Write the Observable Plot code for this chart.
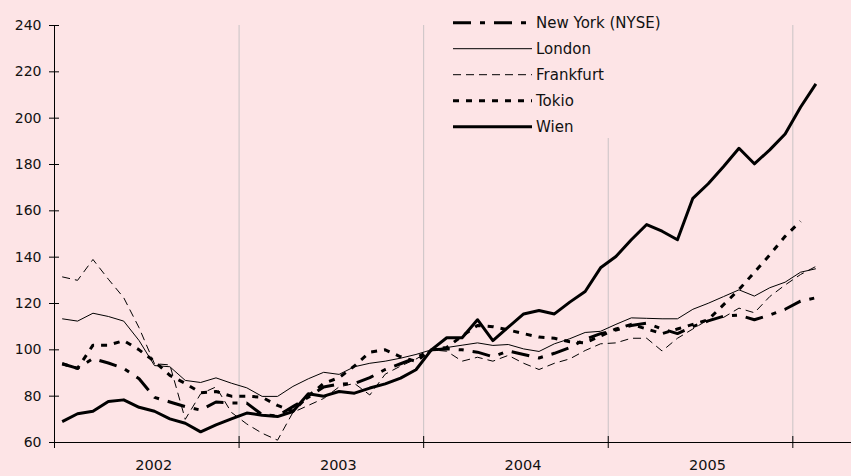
<!DOCTYPE html>
<html><head><meta charset="utf-8">
<script src="https://cdn.jsdelivr.net/npm/d3@7"></script>
<script src="https://cdn.jsdelivr.net/npm/@observablehq/plot@0.6"></script>
<style>
html,body{margin:0;padding:0;background:#fde4e6;}
#wrap{position:relative;width:851px;height:476px;overflow:hidden;}
#legend{position:absolute;left:440px;top:4px;}
</style></head><body><div id="wrap"></div>
<script>
// Monthly index values, Jan 2002 .. Feb 2006 (Jan 2004 = 100)
const years = [2002, 2003, 2004, 2005, 2006];
const yearLabels = ["2002", "2003", "2004", "2005"];
const yTicks = [60, 80, 100, 120, 140, 160, 180, 200, 220, 240];

const newYork = [
  94, 92, 96.2, 94.3, 92, 87.5, 79.5, 77.5, 75.5, 74,
  77.5, 77, 77, 72, 71.5, 75.5, 79.5, 84, 85.2, 85.5,
  88, 91.5, 94, 96.5, 100, 100.4, 100, 99, 97, 99.5,
  98, 96.5, 98.5, 101, 104.5, 107, 108.5, 110.5, 111.5, 109,
  107, 110, 112.5, 114.5, 115, 113, 115, 117.5, 121, 122.5];
const london = [
  113.4, 112.4, 115.8, 114.4, 112.4, 104, 93.2, 92.7, 86.8, 85.9,
  87.9, 85.6, 83.6, 79.9, 79.9, 84.2, 87.5, 90.3, 89.4, 92.7,
  94.2, 95.1, 96.4, 98, 100, 101, 102, 103, 101.9, 102.3,
  100.4, 99.3, 102.6, 104.8, 107.5, 108, 111, 113.8, 113.6, 113.4,
  113.4, 117.5, 120.1, 123, 125.9, 123.2, 126.8, 129.2, 133.5, 135];
const frankfurt = [
  131.5, 130, 139, 130.5, 122.5, 109.5, 94, 93.5, 70, 81,
  84, 73, 68, 64, 61, 73, 76, 79, 84, 85.5,
  80.5, 89.5, 93, 96, 100, 99.4, 95.1, 96.8, 95.1, 97.6,
  94.2, 91.5, 94.2, 96.1, 99.7, 102.6, 103, 105, 105, 99.5,
  105, 109, 113, 114, 118, 116, 123, 128, 132.5, 136];
const tokio = [
  94, 92, 102, 102, 104, 100, 95, 89, 85.5, 81.5,
  82, 80, 80, 79.5, 76, 73.5, 80, 85.5, 88, 93,
  99, 100, 97, 95, 100, 101, 106, 110.5, 110, 108.6,
  107, 105.5, 105, 103.5, 103, 106, 109, 111, 109, 107,
  109, 111, 113, 119.5, 126, 133.5, 141, 149, 155.5, null];
const wien = [
  69, 72.4, 73.5, 77.7, 78.4, 75.2, 73.5, 70.2, 68.3, 64.6,
  67.6, 70.2, 72.7, 71.8, 71.2, 73.4, 81, 80, 82, 81.3,
  83.5, 85.3, 87.8, 91.4, 100, 105.2, 105.2, 113, 104, 109.8,
  115.5, 117, 115.5, 120.6, 125.2, 135.4, 140.3, 147.5, 154.1, 151.2,
  147.5, 165.4, 171.7, 179.1, 187, 180.3, 186.3, 193.2, 204.7, 214.8];

const seriesNames = ["New York (NYSE)", "London", "Frankfurt", "Tokio", "Wien"];
const seriesValues = [newYork, london, frankfurt, tokio, wien];
const seriesStyle = [
  {strokeWidth: 3, strokeDasharray: "18,9,5,9"},
  {strokeWidth: 1, strokeDasharray: null},
  {strokeWidth: 1, strokeDasharray: "8,5"},
  {strokeWidth: 3, strokeDasharray: "6,7"},
  {strokeWidth: 3, strokeDasharray: null}
];

// month i -> fractional year at middle of that month
const startYear = years[0];
const monthX = i => startYear + Math.floor(i / 12) + ((i % 12) + 0.5) / 12;

const bg = "#fde4e6";
const W = 851, H = 476;
const mL = 54, mT = 25, mB = 34, mR = 0;
const yearPx = 184.58;
const xMax = startYear + (W - mL - mR) / yearPx;

const lineMarks = seriesValues.map((vals, k) => {
  const data = vals.map((v, i) => ({x: monthX(i), y: v})).filter(d => d.y != null);
  const st = seriesStyle[k];
  return Plot.line(data, {
    x: "x", y: "y", stroke: "#000",
    strokeWidth: st.strokeWidth,
    strokeDasharray: st.strokeDasharray,
    strokeLinejoin: "round", strokeLinecap: "butt"
  });
});

const chart = Plot.plot({
  width: W, height: H,
  marginLeft: mL, marginTop: mT, marginBottom: mB, marginRight: mR,
  style: {background: bg, fontFamily: "DejaVu Sans", fontSize: "14px", color: "#111", overflow: "visible"},
  x: {domain: [startYear, xMax]},
  y: {domain: [yTicks[0], yTicks[yTicks.length - 1]]},
  marks: [
    Plot.ruleX(years.slice(1), {stroke: "#c9c3c5", strokeWidth: 1}),
    ...lineMarks,
    Plot.ruleX([startYear], {stroke: "#000", strokeWidth: 1}),
    Plot.ruleY([yTicks[0]], {stroke: "#000", strokeWidth: 1}),
    Plot.axisY({ticks: yTicks, tickSize: 5, tickPadding: 8, tickFormat: d => String(d), label: null, stroke: "#000"}),
    Plot.axisY({ticks: yTicks, tickSize: -5, tickFormat: () => "", label: null, stroke: "#000"}),
    Plot.axisX({ticks: years, tickSize: 6, tickFormat: () => "", label: null, stroke: "#000"}),
    Plot.axisX({ticks: years, tickSize: -6, tickFormat: () => "", label: null, stroke: "#000"}),
    Plot.text(yearLabels, {x: d => +d + 0.5, frameAnchor: "bottom", dy: 27, dx: 7, text: d => d, fill: "#111", fontSize: 14.5})
  ]
});
const wrap = document.getElementById("wrap");
wrap.appendChild(chart);

// Legend (inside plot area, top right)
const lg = d3.create("svg").attr("id", "legend").attr("width", 240).attr("height", 134);
lg.append("rect").attr("width", 240).attr("height", 134).attr("fill", bg);
seriesNames.forEach((name, k) => {
  const yy = 18.7 + k * 26;
  const st = seriesStyle[k];
  lg.append("line").attr("x1", 13).attr("x2", 92).attr("y1", yy).attr("y2", yy)
    .attr("stroke", "#000").attr("stroke-width", st.strokeWidth)
    .attr("stroke-dasharray", st.strokeDasharray);
  lg.append("text").attr("x", 96).attr("y", yy).attr("dy", "0.35em")
    .attr("font-family", "DejaVu Sans").attr("font-size", 15).attr("fill", "#111").text(name);
});
wrap.appendChild(lg.node());
</script></body></html>
